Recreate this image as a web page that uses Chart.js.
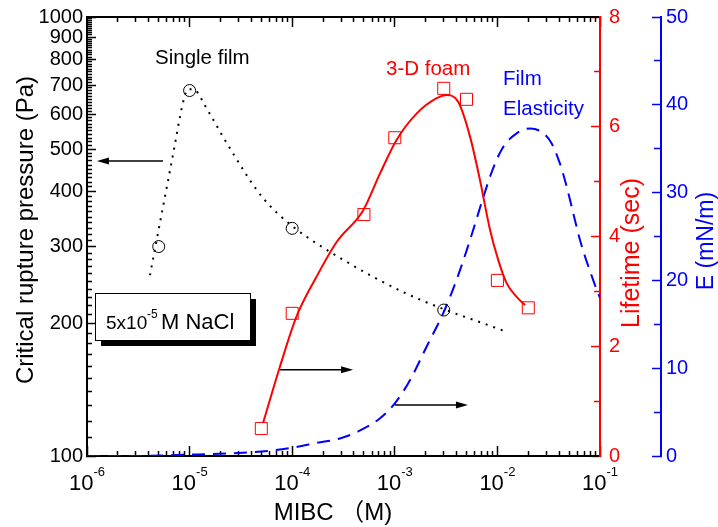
<!DOCTYPE html>
<html><head><meta charset="utf-8">
<script src="https://cdn.jsdelivr.net/npm/chart.js@4"></script>
<style>html,body{margin:0;padding:0;background:#fff;overflow:hidden;}</style>
</head><body>
<canvas id="c" width="718" height="527"></canvas>
<script>
// ---------- data ----------
const singleFilmX = [5e-6, 1e-5, 1e-4, 3e-3];
const singleFilmP = [300, 680, 330, 215];

const singleFitX = [4.11e-6, 4.92e-6, 5.89e-6, 7.05e-6, 8.05e-6, 8.81e-6, 9.63e-6, 1.08e-5, 1.21e-5, 1.38e-5, 1.62e-5, 2.12e-5, 2.83e-5, 3.79e-5, 5.19e-5, 7.11e-5, 1e-4, 1.49e-4, 3.05e-4, 6.14e-4, 1.32e-3, 3e-3, 7.08e-3, 1.14e-2];
const singleFitP = [258, 322, 401, 500, 592, 651, 685, 685, 671, 634, 595, 533, 477, 428, 387, 358, 334, 312, 281, 256, 234, 216, 201, 193];

const foamX = [5e-5, 1e-4, 5e-4, 1e-3, 3e-3, 5e-3, 1e-2, 2e-2];
const foamLife = [0.5, 2.6, 4.4, 5.8, 6.7, 6.5, 3.2, 2.7];

const foamFitX = [5.2e-5, 7.6e-5, 1.1e-4, 1.73e-4, 2.71e-4, 4.93e-4, 7.18e-4, 1.04e-3, 1.63e-3, 2.56e-3, 3.25e-3, 4.16e-3, 5.41e-3, 6.76e-3, 8.48e-3, 1.02e-2, 1.23e-2, 1.54e-2, 1.86e-2];
const foamFitLife = [0.6, 1.63, 2.54, 3.27, 3.9, 4.48, 5.15, 5.76, 6.24, 6.52, 6.58, 6.45, 5.82, 5.03, 4.12, 3.57, 3.15, 2.9, 2.75];

const elasX = [1e-6, 3e-6, 1e-5, 3e-5, 6e-5, 1e-4, 1.75e-4, 2.92e-4, 4.4e-4, 7.18e-4, 1e-3, 1.41e-3, 2.04e-3, 3e-3, 3.98e-3, 5.41e-3, 7.3e-3, 9.1e-3, 1.14e-2, 1.54e-2, 2.08e-2, 2.7e-2, 3.38e-2, 4.07e-2, 4.73e-2, 5.5e-2, 6.38e-2, 8.6e-2, 1e-1];
const elasE = [0, 0, 0.15, 0.35, 0.6, 0.95, 1.5, 2.0, 2.8, 4.3, 6.0, 8.66, 12.45, 16.4, 20.0, 24.6, 29.5, 32.8, 35.2, 36.75, 37.3, 36.9, 35.6, 33.3, 30.7, 27.6, 24.6, 20, 18];

const pressureTicks = [100, 200, 300, 400, 500, 600, 700, 800, 900, 1000];
const lifetimeTicks = [0, 2, 4, 6, 8];
const elasticityTicks = [0, 10, 20, 30, 40, 50];
const mibcDecades = [-6, -5, -4, -3, -2, -1];

// annotation arrows (in data units of the axis they point to)
const arrowNotes = [
  { axis: 'y',  y: 470,  from: 5.5e-6, to: 1.25e-6 },
  { axis: 'yL', y: 1.57, from: 7.6e-5, to: 3.92e-4 },
  { axis: 'yE', y: 5.8,  from: 1e-3,   to: 5.16e-3 }
];

// ---------- tick positions (major + minor) built from the tick lists ----------
const logTickValues = [];
mibcDecades.forEach(k => { const n = k === mibcDecades[mibcDecades.length - 1] ? 1 : 9; for (let m = 1; m <= n; m++) logTickValues.push(m * Math.pow(10, k)); });
const pressureTickValues = [];
pressureTicks.forEach((p, i) => { pressureTickValues.push(p); if (i < pressureTicks.length - 1) for (let j = 1; j < 10; j++) pressureTickValues.push(p + j * (pressureTicks[i + 1] - p) / 10); });
const lifetimeTickValues = [];
for (let v = lifetimeTicks[0]; v <= lifetimeTicks[lifetimeTicks.length - 1]; v += 1) lifetimeTickValues.push(v);
const elasticityTickValues = [];
for (let v = elasticityTicks[0]; v <= elasticityTicks[elasticityTicks.length - 1]; v += 5) elasticityTickValues.push(v);

// ---------- styling ----------
const FAM = "'Liberation Sans', Arial, Helvetica, 'Noto Sans CJK SC', sans-serif";
const RED = '#ff0000', BLUE = '#0000ff', BLACK = '#000000';
const pts = (xs, ys) => xs.map((x, i) => ({ x: x, y: ys[i] }));
const isDecade = v => Math.abs(Math.log10(v) - Math.round(Math.log10(v))) < 1e-9;
const minorDash = (test, dash) => c => (c.tick && test(c.tick.value)) ? dash : [];

function seg(ctx, x1, y1, x2, y2, color, width) {
  ctx.save();
  ctx.setLineDash([]);
  ctx.strokeStyle = color; ctx.lineWidth = width;
  ctx.beginPath(); ctx.moveTo(x1, y1); ctx.lineTo(x2, y2); ctx.stroke();
  ctx.restore();
}

const annotatePlugin = {
  id: 'annotate',
  afterDraw(chart) {
    const ctx = chart.ctx, scales = chart.scales;
    const X = scales.x;
    ctx.save();
    // x tick labels 10^k
    ctx.fillStyle = BLACK; ctx.textBaseline = 'alphabetic'; ctx.textAlign = 'left';
    mibcDecades.forEach(k => {
      const x = X.getPixelForValue(Math.pow(10, k));
      ctx.font = '22px ' + FAM; const w1 = ctx.measureText('10').width;
      ctx.font = '13px ' + FAM; const w2 = ctx.measureText(String(k)).width;
      const x0 = x - (w1 + w2) / 2;
      ctx.font = '22px ' + FAM; ctx.fillText('10', x0, 490);
      ctx.font = '13px ' + FAM; ctx.fillText(String(k), x0 + w1, 476);
    });
    // axis titles
    const rot = (text, cx, cy, font, color) => {
      ctx.save(); ctx.translate(cx, cy); ctx.rotate(-Math.PI / 2);
      ctx.font = font; ctx.fillStyle = color; ctx.textAlign = 'center'; ctx.textBaseline = 'middle';
      ctx.fillText(text, 0, 0); ctx.restore();
    };
    rot('Critical rupture pressure (Pa)', 26, 230, '24px ' + FAM, BLACK);
    rot('Lifetime (sec)', 632, 253, '25px ' + FAM, RED);
    rot('E (mN/m)', 707, 241, '23px ' + FAM, BLUE);
    ctx.font = '24px ' + FAM; ctx.fillStyle = BLACK; ctx.textAlign = 'center'; ctx.textBaseline = 'alphabetic';
    ctx.fillText('MIBC （M)', 333, 520);
    // curve labels
    ctx.textAlign = 'left';
    ctx.font = '20.5px ' + FAM;
    ctx.fillStyle = BLACK; ctx.fillText('Single film', 155, 64);
    ctx.fillStyle = RED; ctx.fillText('3-D foam', 386, 75);
    ctx.fillStyle = BLUE; ctx.fillText('Film', 503, 85); ctx.fillText('Elasticity', 503, 115);
    // arrows
    arrowNotes.forEach(n => {
      const y = scales[n.axis].getPixelForValue(n.y);
      const x1 = X.getPixelForValue(n.from), x2 = X.getPixelForValue(n.to);
      const dir = Math.sign(x2 - x1);
      seg(ctx, x1, y, x2 - dir * 8, y, BLACK, 1.5);
      ctx.fillStyle = BLACK;
      ctx.beginPath(); ctx.moveTo(x2, y); ctx.lineTo(x2 - dir * 12, y - 3.5); ctx.lineTo(x2 - dir * 12, y + 3.5); ctx.closePath(); ctx.fill();
    });
    // NaCl box with shadow
    ctx.fillStyle = BLACK; ctx.fillRect(101, 299, 155, 47);
    ctx.fillStyle = '#fff'; ctx.fillRect(95, 293, 155, 47);
    ctx.strokeStyle = BLACK; ctx.lineWidth = 1; ctx.strokeRect(95.5, 293.5, 155, 47);
    ctx.fillStyle = BLACK; ctx.textAlign = 'left';
    ctx.font = '19px ' + FAM; ctx.fillText('5x10', 106, 329);
    ctx.font = '12px ' + FAM; ctx.fillText('-5', 147, 318);
    ctx.font = '22px ' + FAM; ctx.fillText('M NaCl', 161, 329);
    ctx.restore();
  }
};

const tickGrid = (color, len, dashFn) => ({
  display: true, drawOnChartArea: false, drawTicks: true, tickLength: len,
  tickWidth: 1.5, tickColor: color, tickBorderDash: dashFn
});
const zeroPad = s => { s.paddingTop = 0; s.paddingBottom = 0; s.paddingLeft = 0; s.paddingRight = 0; };

new Chart(document.getElementById('c'), {
  type: 'scatter',
  data: {
    datasets: [
      { label: 'Single film', data: pts(singleFilmX, singleFilmP), yAxisID: 'y', showLine: false,
        pointStyle: 'circle', pointRadius: 6, borderColor: BLACK, backgroundColor: 'rgba(0,0,0,0)', borderWidth: 1 },
      { label: 'Single film curve', data: pts(singleFitX, singleFitP), yAxisID: 'y', showLine: true,
        pointRadius: 0, borderColor: BLACK, borderWidth: 2, borderDash: [2, 6], cubicInterpolationMode: 'monotone' },
      { label: '3-D foam', data: pts(foamX, foamLife), yAxisID: 'yL', showLine: false,
        pointStyle: 'rect', pointRadius: 8.5, borderColor: RED, backgroundColor: 'rgba(0,0,0,0)', borderWidth: 1 },
      { label: '3-D foam curve', data: pts(foamFitX, foamFitLife), yAxisID: 'yL', showLine: true,
        pointRadius: 0, borderColor: RED, borderWidth: 2, cubicInterpolationMode: 'monotone' },
      { label: 'Film Elasticity', data: pts(elasX, elasE), yAxisID: 'yE', showLine: true,
        pointRadius: 0, borderColor: BLUE, borderWidth: 2, borderDash: [13, 8], cubicInterpolationMode: 'monotone' }
    ]
  },
  options: {
    responsive: false, animation: false, devicePixelRatio: 1,
    layout: { padding: 0 },
    plugins: { legend: { display: false }, tooltip: { enabled: false } },
    scales: {
      x: { type: 'logarithmic', position: 'bottom', min: 1e-6, max: 1e-1,
        grid: tickGrid(BLACK, -10, minorDash(v => !isDecade(v), [6, 100])),
        border: { color: BLACK, width: 2 },
        ticks: { display: false },
        afterBuildTicks: s => { s.ticks = logTickValues.map(v => ({ value: v })); },
        afterFit: s => { s.height = 71; zeroPad(s); } },
      xTop: { type: 'logarithmic', position: 'top', min: 1e-6, max: 1e-1,
        grid: tickGrid(BLACK, -10, minorDash(v => !isDecade(v), [0, 5, 6, 100])),
        border: { color: BLACK, width: 2 },
        ticks: { display: false },
        afterBuildTicks: s => { s.ticks = logTickValues.map(v => ({ value: v })); },
        afterFit: s => { s.height = 17; zeroPad(s); } },
      y: { type: 'logarithmic', position: 'left', min: 100, max: 1000,
        grid: tickGrid(BLACK, -9, minorDash(v => Math.round(v) % 100 !== 0, [0, 4, 6, 100])),
        border: { color: BLACK, width: 2 },
        ticks: { color: BLACK, padding: 13, autoSkip: false, font: { family: FAM, size: 20 },
          callback: v => (pressureTicks.indexOf(Math.round(v)) >= 0 ? String(Math.round(v)) : '') },
        afterBuildTicks: s => { s.ticks = pressureTickValues.map(v => ({ value: v })); },
        afterFit: s => { s.width = 87; zeroPad(s); } },
      yL: { type: 'linear', position: 'right', min: 0, max: 8, weight: 0,
        grid: tickGrid(RED, -9, minorDash(v => lifetimeTicks.indexOf(v) < 0, [7, 100])),
        border: { color: RED, width: 2 },
        ticks: { color: RED, padding: 18, autoSkip: false, font: { family: FAM, size: 20 },
          callback: v => (lifetimeTicks.indexOf(v) >= 0 ? String(v) : '') },
        afterBuildTicks: s => { s.ticks = lifetimeTickValues.map(v => ({ value: v })); },
        afterFit: s => { s.width = 61; zeroPad(s); } },
      yE: { type: 'linear', position: 'right', min: 0, max: 50, weight: 1,
        grid: tickGrid(BLUE, -9, minorDash(v => elasticityTicks.indexOf(v) < 0, [8, 100])),
        border: { color: BLUE, width: 2 },
        ticks: { color: BLUE, padding: 14, autoSkip: false, font: { family: FAM, size: 20 },
          callback: v => (elasticityTicks.indexOf(v) >= 0 ? String(v) : '') },
        afterBuildTicks: s => { s.ticks = elasticityTickValues.map(v => ({ value: v })); },
        afterFit: s => { s.width = 57; zeroPad(s); } }
    }
  },
  plugins: [annotatePlugin]
});
</script>
</body></html>
